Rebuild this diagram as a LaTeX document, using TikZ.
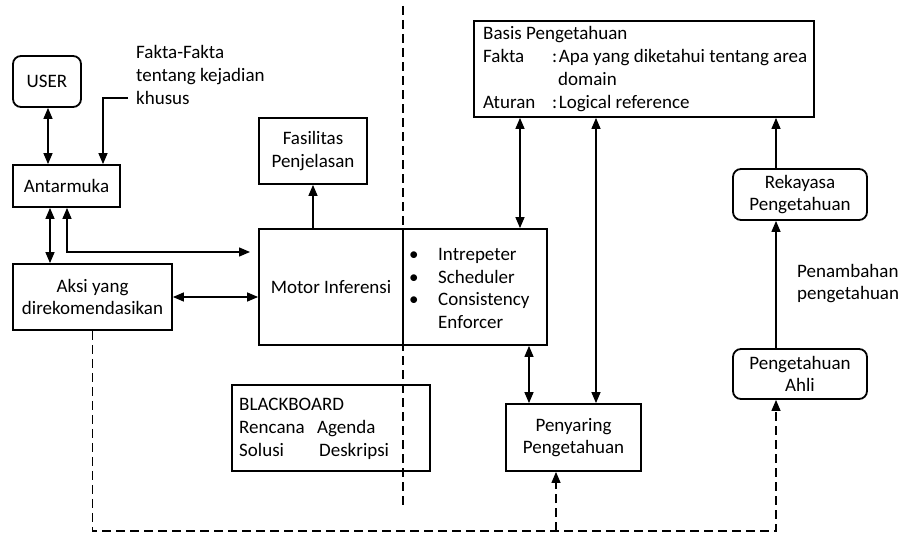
\documentclass[tikz,border=0pt]{standalone}
\usepackage{fontspec}
\setmainfont{Carlito}
\usetikzlibrary{arrows.meta,calc}

\tikzset{
  txt/.style={font=\fontsize{19}{22.7}\selectfont, inner sep=0pt},
  box/.style={txt, draw, line width=1.8pt, align=center},
  rbox/.style={box, rounded corners=8pt},
  tip/.tip={Triangle[length=11pt,width=9pt]},
  conn/.style={line width=1.3pt, -tip},
  dbl/.style={line width=1.3pt, tip-tip},
  dsh/.style={line width=1.3pt, dash pattern=on 9pt off 5pt},
}

\begin{document}
\begin{tikzpicture}[x=1pt,y=-1pt]
\useasboundingbox (0,0) rectangle (901,535);

% boxes
\node[rbox, minimum width=68pt, minimum height=51pt] (user) at (47,81.5) {USER};
\node[box, minimum width=107pt, minimum height=42pt] (antar) at (66.5,186) {Antarmuka};
\node[box, minimum width=159pt, minimum height=66pt] (aksi) at (92.5,297) {Aksi yang\\direkomendasikan};
\node[box, minimum width=108pt, minimum height=66pt] (fasil) at (313,151) {Fasilitas\\Penjelasan};
\node[box, minimum width=144pt, minimum height=116pt] (motorL) at (331,287) {Motor Inferensi};
\node[box, minimum width=144pt, minimum height=116pt] (motorR) at (475,287) {};
\node[box, minimum width=340pt, minimum height=96pt] (basis) at (644,69) {};
\node[box, minimum width=135pt, minimum height=67pt] (penyaring) at (573.5,437.5) {Penyaring\\Pengetahuan};
\node[box, minimum width=198pt, minimum height=86pt] (black) at (331,428) {};
\node[rbox, minimum width=134pt, minimum height=51pt] (rekayasa) at (800,194.5) {Rekayasa\\Pengetahuan};
\node[rbox, minimum width=134pt, minimum height=50pt] (ahli) at (800,374) {Pengetahuan\\Ahli};

% texts
\node[txt, anchor=west, align=left] (fakta) at (136,75) {Fakta-Fakta\\tentang kejadian\\khusus};
\node[txt, anchor=west, align=left] (basistext) at (483,69)
  {Basis Pengetahuan\\\makebox[69pt][l]{Fakta}:\hspace{1.5pt}Apa yang diketahui tentang area\\\hspace*{75pt}domain\\\makebox[69pt][l]{Aturan}:\hspace{1.5pt}Logical reference};
\node[txt, anchor=west, align=left] (motortext) at (409,288.5)
  {\makebox[29pt][l]{\textbullet}Intrepeter\\\makebox[29pt][l]{\textbullet}Scheduler\\\makebox[29pt][l]{\textbullet}Consistency\\\hspace*{29pt}Enforcer};
\node[txt, anchor=west, align=left] (blacktext) at (239,429)
  {BLACKBOARD\\\makebox[78pt][l]{Rencana}Agenda\\\makebox[80pt][l]{Solusi}Deskripsi};
\node[txt, anchor=west, align=left] (tambah) at (797,283.5) {Penambahan\\pengetahuan};

% free ends
\coordinate (fk) at (128,98);
\coordinate (mg) at (250,252);
\coordinate (vt) at (403,6);
\coordinate (vb) at (403,507);
\coordinate (db) at (0,531);

% connectors
\draw[dbl] ([xshift=1pt]user.south) -- ([xshift=1pt]user.south |- antar.north);
\draw[conn] (fk) -| ([xshift=36.5pt]antar.north);
\draw[dbl] ([xshift=-16.5pt]antar.south) -- ([xshift=-16.5pt]antar.south |- aksi.north);
\draw[dbl] ([xshift=0.5pt]antar.south) |- (mg);
\draw[dbl] (aksi.east) -- (aksi.east -| motorL.west);
\draw[conn] (fasil.south |- motorL.north) -- (fasil.south);
\draw[dbl] ([xshift=45pt]motorR.north) -- ([xshift=45pt]motorR.north |- basis.south);
\draw[dbl] ([xshift=54pt]motorR.south) -- ([xshift=54pt]motorR.south |- penyaring.north);
\draw[dbl] ([xshift=22.5pt]penyaring.north |- basis.south) -- ([xshift=22.5pt]penyaring.north);
\draw[conn] ([xshift=-24pt]ahli.north) -- ([xshift=-24pt]ahli.north |- rekayasa.south);
\draw[conn] ([xshift=-24pt]rekayasa.north) -- ([xshift=-24pt]rekayasa.north |- basis.south);

% dashed feedback paths
\draw[dsh, -tip] (aksi.south) |- ([xshift=-24pt]ahli.south |- db) -- ([xshift=-24pt]ahli.south);
\draw[dsh, -tip] ([xshift=-17.5pt]penyaring.south |- db) -- ([xshift=-17.5pt]penyaring.south);
\draw[dsh] (vt) -- (vb);
\end{tikzpicture}
\end{document}
